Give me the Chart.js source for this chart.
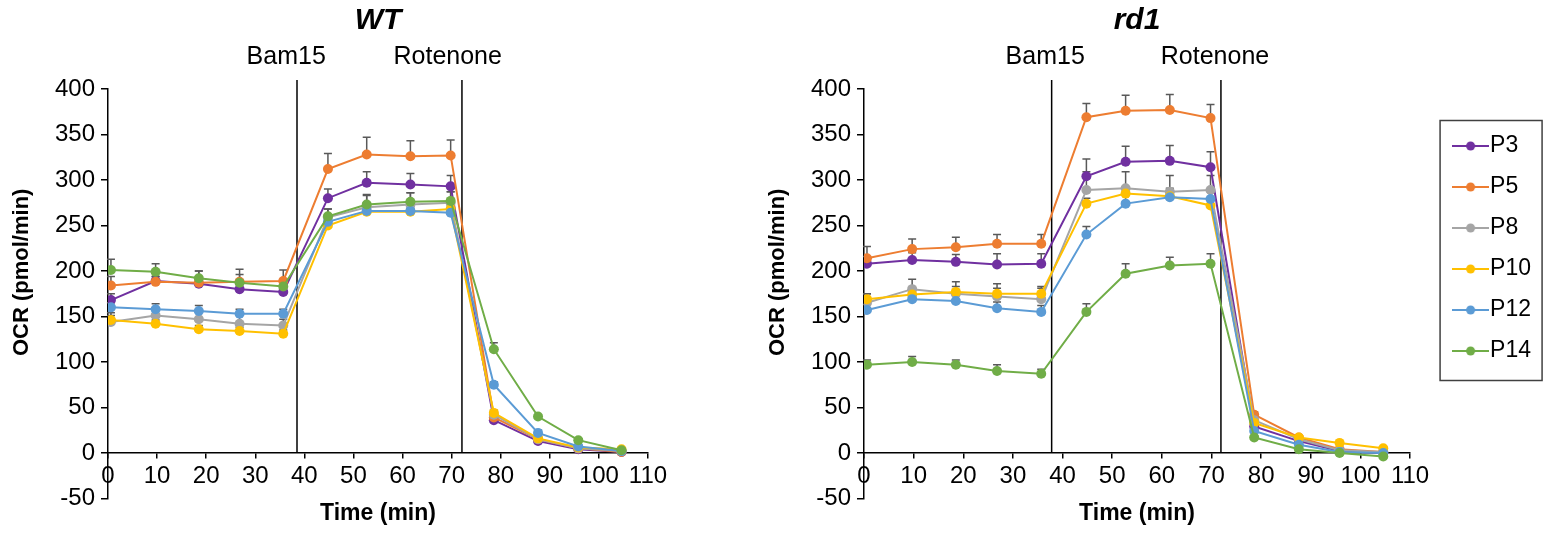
<!DOCTYPE html>
<html>
<head>
<meta charset="utf-8">
<script src="https://cdn.jsdelivr.net/npm/chart.js@4.4.0/dist/chart.umd.min.js"></script>
<style>
  html, body { margin: 0; padding: 0; background: #fff; }
  body { width: 1543px; height: 535px; position: relative; overflow: hidden; }
  .box { position: absolute; top: 0; height: 535px; }
  #wtBox { left: 0; width: 756px; }
  #rd1Box { left: 756px; width: 787px; }
</style>
</head>
<body>
<div class="box" id="wtBox"><canvas id="wt"></canvas></div>
<div class="box" id="rd1Box"><canvas id="rd1"></canvas></div>
<script>
const times = [0.6, 9.7, 18.5, 26.8, 35.7, 44.8, 52.7, 61.6, 69.8, 78.6, 87.6, 95.8, 104.6];
const passages = ["P3", "P5", "P8", "P10", "P12", "P14"];
const colors = ["#7030A0", "#ED7D31", "#A5A5A5", "#FFC000", "#5B9BD5", "#70AD47"];

// WT
const wtP3 = [168, 189, 186, 180, 177, 280, 297, 295, 293, 36, 13, 4, 1];
const wtP5 = [184, 188, 187, 188, 189, 312, 328, 326, 327, 39, 15, 5, 1];
const wtP8 = [144, 151, 147, 142, 140, 259, 270, 273, 275, 42, 15, 5, 2];
const wtP10 = [146, 142, 136, 134, 131, 250, 265, 265, 268, 44, 16, 6, 4];
const wtP12 = [160, 158, 156, 153, 153, 254, 266, 266, 264, 75, 22, 7, 2];
const wtP14 = [201, 199, 192, 187, 183, 260, 273, 276, 277, 114, 40, 14, 3];

const wtP3Err = [7, 5, 5, 6, 6, 10, 12, 12, 12, 2, 2, 1, 1];
const wtP5Err = [10, 6, 13, 14, 12, 17, 19, 17, 17, 2, 2, 1, 1];
const wtP8Err = [10, 8, 8, 10, 7, 9, 14, 13, 12, 3, 2, 1, 1];
const wtP10Err = [5, 4, 4, 4, 4, 5, 4, 4, 4, 3, 2, 1, 1];
const wtP12Err = [5, 6, 6, 5, 5, 6, 6, 6, 6, 3, 3, 1, 1];
const wtP14Err = [12, 9, 8, 9, 8, 8, 10, 10, 10, 7, 2, 1, 1];

// rd1
const rdP3 = [208, 212, 210, 207, 208, 304, 320, 321, 314, 29, 13, 2, 0];
const rdP5 = [214, 224, 226, 230, 230, 369, 376, 377, 368, 42, 17, 4, 1];
const rdP8 = [165, 180, 175, 172, 169, 289, 291, 287, 289, 36, 15, 3, 1];
const rdP10 = [169, 174, 177, 175, 175, 274, 285, 282, 272, 33, 17, 11, 5];
const rdP12 = [157, 169, 167, 159, 155, 240, 274, 281, 279, 24, 9, 1, 0];
const rdP14 = [97, 100, 97, 90, 87, 155, 197, 206, 208, 17, 4, 0, -4];

const rdP3Err = [8, 8, 8, 12, 11, 19, 17, 17, 17, 2, 2, 1, 1];
const rdP5Err = [13, 11, 11, 10, 10, 15, 17, 17, 15, 3, 2, 1, 1];
const rdP8Err = [10, 11, 13, 14, 14, 20, 18, 18, 16, 3, 2, 1, 1];
const rdP10Err = [6, 6, 6, 6, 6, 6, 6, 6, 6, 2, 2, 1, 1];
const rdP12Err = [6, 6, 6, 7, 7, 9, 9, 10, 8, 2, 2, 1, 1];
const rdP14Err = [5, 6, 5, 7, 5, 9, 11, 9, 11, 2, 1, 1, 1];

// injections
const drugs = ["Bam15", "Rotenone"];
const wtDrugTimes = [38.5, 72.1];
const wtDrugLabelAt = [36.3, 69.2];
const rdDrugTimes = [37.8, 71.9];
const rdDrugLabelAt = [36.5, 70.7];

const xMin = 0, xMax = 110, xStep = 10;
const yMin = -50, yMax = 400, yStep = 50;
const lineTop = 410;

Chart.defaults.font.family = "'Liberation Sans', Arial, sans-serif";
Chart.defaults.color = "#000";

function legendIcon(color) {
  const c = document.createElement("canvas");
  c.width = 37;
  c.height = 10;
  const g = c.getContext("2d");
  g.strokeStyle = color;
  g.lineWidth = 2;
  g.beginPath();
  g.moveTo(0, 5);
  g.lineTo(37, 5);
  g.stroke();
  g.fillStyle = color;
  g.beginPath();
  g.arc(18.5, 5, 4.5, 0, Math.PI * 2);
  g.fill();
  return c;
}
const icons = colors.map(legendIcon);

function buildDatasets(values, drugTimes) {
  const sets = values.map((vals, i) => ({
    label: passages[i],
    data: times.map((t, j) => ({ x: t, y: vals[j] })),
    borderColor: colors[i],
    backgroundColor: colors[i],
    borderWidth: 2,
    pointRadius: 5,
    pointBorderWidth: 0,
    pointHoverRadius: 5,
    order: passages.length - i,
  }));
  drugTimes.forEach((t) => {
    sets.push({
      label: "",
      data: [{ x: t, y: 0 }, { x: t, y: lineTop }],
      borderColor: "#000",
      borderWidth: 1.5,
      pointRadius: 0,
      clip: false,
      order: 10,
    });
  });
  return sets;
}

// error bars, injection labels, legend frame
function makeExtras(values, errors, labelAt, withLegend) {
  return {
    id: "extras",
    afterLayout(chart) {
      if (!withLegend) return;
      const lg = chart.legend;
      lg.left += 34.5;
      lg.right += 34.5;
      lg.top += 27.5;
      lg.bottom += 27.5;
    },
    beforeDatasetsDraw(chart) {
      const { ctx, scales } = chart;
      ctx.save();
      ctx.strokeStyle = "#595959";
      ctx.lineWidth = 1.5;
      errors.forEach((errs, i) => {
        errs.forEach((e, j) => {
          const px = scales.x.getPixelForValue(times[j]);
          const y0 = scales.y.getPixelForValue(values[i][j]);
          const y1 = scales.y.getPixelForValue(values[i][j] + e);
          ctx.beginPath();
          ctx.moveTo(px, y0);
          ctx.lineTo(px, y1);
          ctx.moveTo(px - 4, y1);
          ctx.lineTo(px + 4, y1);
          ctx.stroke();
        });
      });
      ctx.restore();
    },
    afterDraw(chart) {
      const { ctx, scales } = chart;
      ctx.save();
      ctx.font = "25px 'Liberation Sans', Arial, sans-serif";
      ctx.fillStyle = "#000";
      ctx.textAlign = "center";
      ctx.textBaseline = "middle";
      drugs.forEach((name, i) => {
        ctx.fillText(name, scales.x.getPixelForValue(labelAt[i]), 57);
      });
      if (withLegend) {
        const lg = chart.legend;
        ctx.strokeStyle = "#404040";
        ctx.lineWidth = 1.5;
        ctx.strokeRect(lg.left - 4.5, lg.top + 4, 102, 260);
      }
      ctx.restore();
    },
  };
}

function makeChart(id, title, values, errors, drugTimes, labelAt, withLegend) {
  return new Chart(document.getElementById(id), {
    type: "line",
    data: { datasets: buildDatasets(values, drugTimes) },
    options: {
      responsive: true,
      maintainAspectRatio: false,
      animation: false,
      events: [],
      layout: { padding: { left: 0, top: 0, bottom: 0, right: withLegend ? 36.5 : 108 } },
      plugins: {
        title: {
          display: true,
          text: title,
          fullSize: false,
          color: "#000",
          font: { size: 30, weight: "bold", style: "italic" },
          padding: { top: 3, bottom: 50 },
        },
        legend: {
          display: withLegend,
          position: "right",
          align: "start",
          fullSize: false,
          labels: {
            color: "#000",
            font: { size: 23 },
            usePointStyle: true,
            pointStyleWidth: 16,
            padding: 18,
            generateLabels(chart) {
              return Chart.defaults.plugins.legend.labels
                .generateLabels(chart)
                .map((item) => ({ ...item, pointStyle: icons[item.datasetIndex] }));
            },
            filter: (item) => item.datasetIndex < passages.length,
            sort: (a, b) => a.datasetIndex - b.datasetIndex,
          },
        },
        tooltip: { enabled: false },
      },
      scales: {
        x: {
          type: "linear",
          position: { y: 0 },
          min: xMin,
          max: xMax,
          afterFit: (s) => { s.height = 0; },
          ticks: { stepSize: xStep, padding: 4, maxRotation: 0, autoSkip: false, color: "#000", font: { size: 24 } },
          grid: { drawOnChartArea: false, color: "#000", tickLength: 5, lineWidth: 1.5 },
          border: { color: "#000", width: 1.5 },
        },
        xt: {
          axis: "x",
          type: "linear",
          position: "bottom",
          min: xMin,
          max: xMax,
          ticks: { display: false },
          grid: { display: false, drawTicks: false },
          border: { display: false },
          title: {
            display: true,
            text: "Time (min)",
            color: "#000",
            font: { size: 23, weight: "bold" },
            padding: { top: 1, bottom: 8 },
          },
        },
        y: {
          min: yMin,
          max: yMax,
          afterFit: (s) => { s.width = 108; },
          ticks: { stepSize: yStep, padding: 6, color: "#000", font: { size: 24 } },
          grid: { drawOnChartArea: false, color: "#000", tickLength: 7, lineWidth: 1.5 },
          border: { color: "#000", width: 1.5 },
          title: {
            display: true,
            text: "       OCR (pmol/min)",
            color: "#000",
            font: { size: 22, weight: "bold" },
            padding: { top: 9, bottom: 0 },
          },
        },
      },
    },
    plugins: [makeExtras(values, errors, labelAt, withLegend)],
  });
}

makeChart(
  "wt", "WT",
  [wtP3, wtP5, wtP8, wtP10, wtP12, wtP14],
  [wtP3Err, wtP5Err, wtP8Err, wtP10Err, wtP12Err, wtP14Err],
  wtDrugTimes, wtDrugLabelAt, false
);
makeChart(
  "rd1", "rd1",
  [rdP3, rdP5, rdP8, rdP10, rdP12, rdP14],
  [rdP3Err, rdP5Err, rdP8Err, rdP10Err, rdP12Err, rdP14Err],
  rdDrugTimes, rdDrugLabelAt, true
);
</script>
</body>
</html>
